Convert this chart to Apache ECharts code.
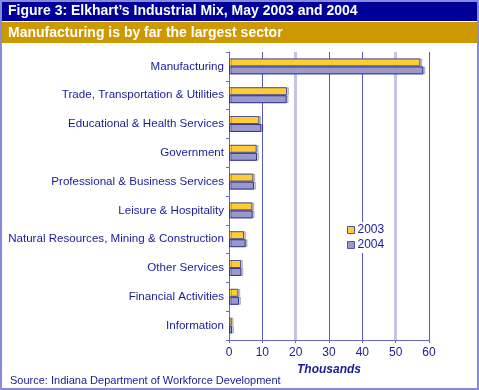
<!DOCTYPE html>
<html><head><meta charset="utf-8">
<script src="https://cdn.jsdelivr.net/npm/echarts@6/dist/echarts.min.js"></script>
<style>html,body{margin:0;padding:0;background:#fff}#c{width:479px;height:390px}</style>
</head><body><div id="c"></div>
<script>
const categories = ["Manufacturing","Trade, Transportation & Utilities","Educational & Health Services","Government","Professional & Business Services","Leisure & Hospitality","Natural Resources, Mining & Construction","Other Services","Financial Activities","Information"];
const values2003 = [57.4, 17.4, 9.1, 8.3, 7.3, 7.0, 4.5, 3.6, 2.8, 0.8];
const values2004 = [58.3, 17.3, 9.7, 8.4, 7.5, 7.1, 5.0, 3.7, 3.0, 0.9];
const xTicks = [0, 10, 20, 30, 40, 50, 60];
const seriesNames = ["2003", "2004"];

const navy = '#1a1a99';
const chart = echarts.init(document.getElementById('c'));
const font = '"Liberation Sans", Arial, sans-serif';
chart.setOption({
  animation: false,
  textStyle: {fontFamily: font},
  grid: {left: 229, right: 50, top: 52, bottom: 50, containLabel: false},
  graphic: [
    {type: 'rect', shape: {x: 0, y: 0, width: 479, height: 21}, style: {fill: '#000099'}, z: 10},
    {type: 'rect', shape: {x: 0, y: 22, width: 479, height: 21}, style: {fill: '#cc9900'}, z: 10},
    {type: 'rect', shape: {x: 1, y: 1, width: 477, height: 388}, style: {fill: 'none', stroke: '#8888dd', lineWidth: 2}, z: 11},
    {type: 'text', left: 8, top: 4, style: {text: 'Figure 3: Elkhart’s Industrial Mix, May 2003 and 2004', fill: '#fff', font: 'bold 14px ' + font}, z: 12},
    {type: 'text', left: 8, top: 26, style: {text: 'Manufacturing is by far the largest sector', fill: '#fff', font: 'bold 14px ' + font}, z: 12},
    {type: 'text', left: 10, top: 375, style: {text: 'Source: Indiana Department of Workforce Development', fill: navy, font: '11px ' + font}, z: 12}
  ],
  legend: {
    data: seriesNames, orient: 'vertical', left: 345, top: 222,
    icon: 'rect', itemWidth: 7, itemHeight: 7, itemGap: 3, padding: [2, 4, 2, 2],
    backgroundColor: '#fff',
    itemStyle: {borderColor: '#555599', borderWidth: 1},
    textStyle: {color: navy, fontSize: 12, fontFamily: font, padding: [0, 0, 0, -2]}
  },
  xAxis: [{
    type: 'value', min: 0, max: 60, interval: 10,
    name: 'Thousands', nameLocation: 'middle', nameGap: 22,
    nameTextStyle: {color: navy, fontWeight: 'bold', fontStyle: 'italic', fontSize: 12},
    axisLine: {show: true, lineStyle: {color: '#6666cc'}},
    axisTick: {show: true, length: 3, lineStyle: {color: '#6666cc'}},
    axisLabel: {color: navy, fontSize: 12, margin: 7, formatter: v => xTicks.includes(v) ? String(v) : ''},
    splitLine: {show: true, lineStyle: {color: ['#5a5ac0', '#5a5ac0', 'rgba(0,0,0,0)'], width: 1}}
  }, {
    type: 'value', min: 0, max: 60, interval: 10, position: 'bottom',
    axisLine: {show: false}, axisTick: {show: false}, axisLabel: {show: false},
    splitLine: {show: true, lineStyle: {color: ['rgba(0,0,0,0)', 'rgba(0,0,0,0)', '#c4c4e6'], width: 3}}
  }],
  yAxis: {
    type: 'category', data: categories, inverse: true,
    axisLine: {show: true, lineStyle: {color: '#6666cc', width: 1}},
    axisTick: {show: true, length: 3, lineStyle: {color: '#6666cc'}},
    axisLabel: {color: navy, fontSize: 11.6, margin: 5}
  },
  series: [
    {name: seriesNames[0], type: 'bar', data: values2003, barWidth: 8, barGap: '0%',
     itemStyle: {color: '#ffcc33', borderColor: '#555599', borderWidth: 1, shadowColor: 'rgba(0,0,0,0.2)', shadowOffsetX: 2, shadowOffsetY: 0, shadowBlur: 0}},
    {name: seriesNames[1], type: 'bar', data: values2004, barWidth: 8,
     itemStyle: {color: '#9999cc', borderColor: '#333399', borderWidth: 1, shadowColor: 'rgba(0,0,0,0.2)', shadowOffsetX: 2, shadowOffsetY: 0, shadowBlur: 0}}
  ]
});
</script></body></html>
